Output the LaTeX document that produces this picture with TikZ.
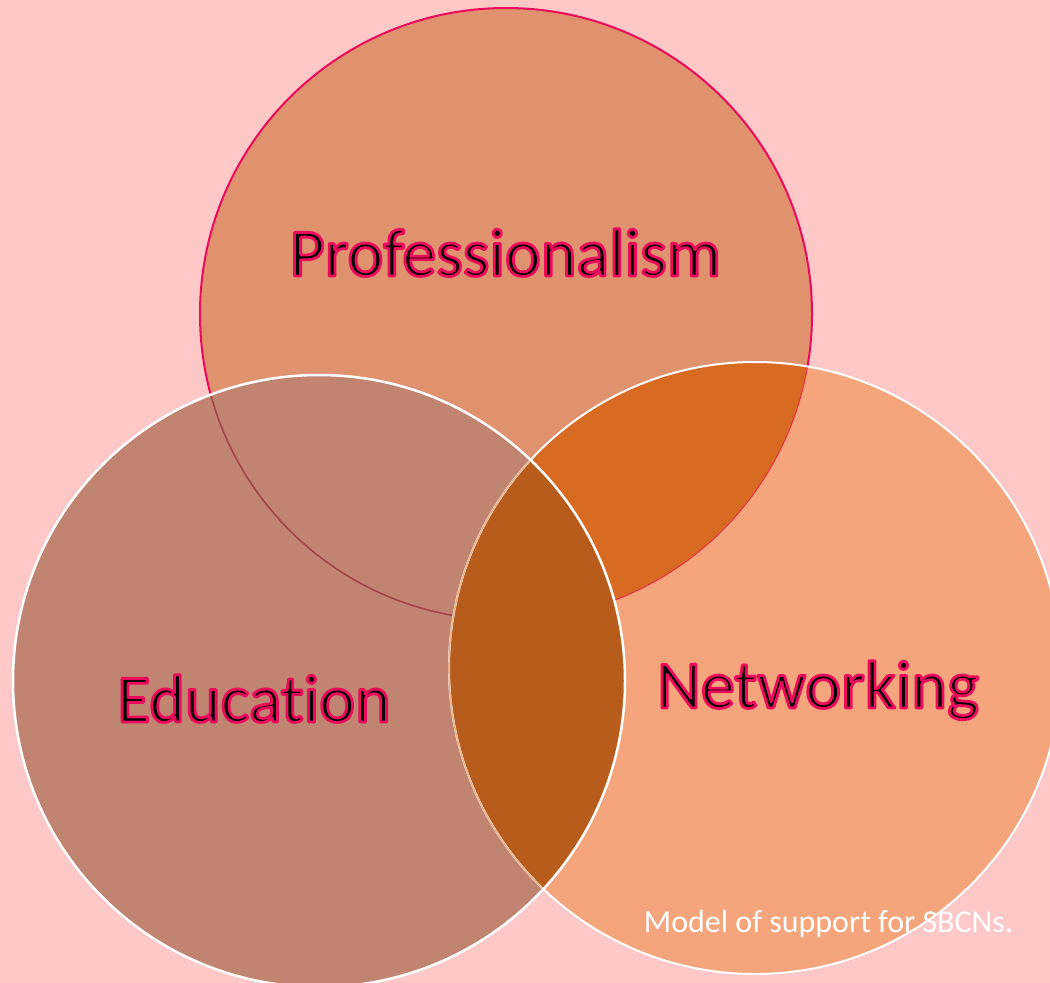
\documentclass[tikz,border=0pt]{standalone}
\usepackage{fontspec}
\setmainfont{Carlito}[Ligatures={NoCommon,NoRare,NoContextual}]
\definecolor{bgpink}{RGB}{255,200,200}
\definecolor{profc}{RGB}{224,146,110}
\definecolor{profline}{RGB}{236,10,92}
\definecolor{educ}{RGB}{192,132,112}
\definecolor{netc}{RGB}{245,165,123}
\definecolor{pnc}{RGB}{217,106,34}
\definecolor{enc}{RGB}{184,92,28}
\definecolor{darkline}{RGB}{165,68,72}
\definecolor{faintline}{RGB}{236,180,140}
\newcommand\outlinedtext[1]{\special{pdf:literal direct 1 j 2.8 w 0.925 0.04 0.36 RG 2 Tr}#1\special{pdf:literal direct 0 Tr}}
\tikzset{
  label text/.style={anchor=base, text=black, font=\fontsize{68}{80}\selectfont, inner sep=0pt},
  caption text/.style={anchor=base, text=white, font=\fontsize{32}{38}\selectfont, inner sep=0pt}
}
\begin{document}
\begin{tikzpicture}[x=1pt,y=-1pt]
\useasboundingbox (0,0) rectangle (1050,983);
\clip (0,0) rectangle (1050,983);
\fill[bgpink] (0,0) rectangle (1050,983);
\coordinate (P) at (506,314);
\coordinate (E) at (319,681);
\coordinate (N) at (755,668);
\def\R{306}
% Professionalism circle
\fill[profc] (P) circle[radius=\R];
\draw[profline, line width=2] (P) circle[radius=\R];
% Education circle
\fill[educ] (E) circle[radius=\R];
\begin{scope}
  \clip (E) circle[radius=\R];
  \draw[darkline, line width=1.6] (P) circle[radius=\R];
\end{scope}
% Networking circle
\fill[netc] (N) circle[radius=\R];
\begin{scope}
  \clip (N) circle[radius=\R];
  \fill[pnc] (P) circle[radius=\R];
  \draw[profline!60!pnc, line width=1] (P) circle[radius=\R];
  \fill[enc] (E) circle[radius=\R];
\end{scope}
\draw[white, line width=2] (N) circle[radius=\R];
\begin{scope}
  \clip (E) circle[radius=\R];
  \draw[faintline, line width=1.6] (N) circle[radius=\R];
\end{scope}
\draw[white, line width=2.5] (E) circle[radius=\R];
% labels
\node[label text] (prof) at (505.5,276) {\outlinedtext{Professionalism}};
\node[label text] (edu) at (254,722) {\outlinedtext{Education}};
\node[label text] (net) at (818,708) {\outlinedtext{Networking}};
\node[caption text] (cap) at (828.5,932) {Model of support for SBCNs.};
\end{tikzpicture}
\end{document}
